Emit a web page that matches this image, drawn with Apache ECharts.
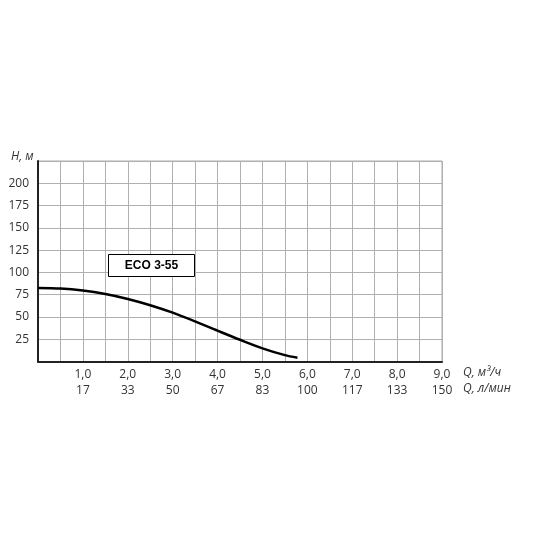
<!DOCTYPE html>
<html>
<head>
<meta charset="utf-8">
<style>
  html, body { margin: 0; padding: 0; background: #fff; }
  #chart { width: 550px; height: 550px; }
</style>
<script src="https://cdn.jsdelivr.net/npm/echarts@6/dist/echarts.min.js"></script>
</head>
<body>
<div id="chart"></div>
<script>
  // flow, m3/h  and  head, m
  var flowM3h = [0, 0.5, 1.0, 1.5, 2.0, 2.5, 3.0, 3.5, 4.0, 4.5, 5.0, 5.5, 5.78];
  var headM   = [82.6, 81.9, 79.6, 75.7, 70.2, 63.2, 54.8, 45.0, 34.6, 24.4, 14.8, 7.2, 4.3];

  // bottom tick rows
  var tickM3h = [1, 2, 3, 4, 5, 6, 7, 8, 9];
  var tickLmin = [17, 33, 50, 67, 83, 100, 117, 133, 150];

  var modelName = 'ECO 3-55';
  var font = '"Open Sans", sans-serif';

  var curve = flowM3h.map(function (q, i) { return [q, headM[i]]; });

  var chart = echarts.init(document.getElementById('chart'));

  chart.setOption({
    animation: false,
    grid: {
      left: 38,
      right: 108,
      top: 161,
      bottom: 188.5,
      show: true,
      borderColor: '#aaa',
      borderWidth: 1
    },
    xAxis: {
      type: 'value',
      min: 0,
      max: 9,
      interval: 0.5,
      axisLine: { show: true, onZero: false, lineStyle: { color: '#222', width: 2 } },
      axisTick: { show: false },
      splitLine: { show: true, lineStyle: { color: '#b0b0b0', width: 1 } },
      axisLabel: {
        margin: 5,
        fontFamily: font,
        fontSize: 12,
        color: '#333',
        lineHeight: 16,
        formatter: function (v) {
          var idx = tickM3h.indexOf(v);
          if (idx < 0) return '';
          return v.toFixed(1).replace('.', ',') + '\n' + tickLmin[idx];
        }
      }
    },
    yAxis: {
      type: 'value',
      min: 0,
      max: 225,
      interval: 25,
      axisLine: { show: true, lineStyle: { color: '#222', width: 2 } },
      axisTick: { show: false },
      splitLine: { show: true, lineStyle: { color: '#b0b0b0', width: 1 } },
      axisLabel: {
        margin: 9,
        fontFamily: font,
        fontSize: 12,
        color: '#333',
        padding: [0, 0, 4, 0],
        formatter: function (v) {
          return (v === 0 || v === 225) ? '' : String(v);
        }
      }
    },
    series: [{
      type: 'line',
      data: curve,
      smooth: 0.3,
      showSymbol: false,
      lineStyle: { color: '#000', width: 2.5 }
    }],
    graphic: [
      {
        type: 'text',
        x: 11,
        y: 157,
        style: { text: 'H, м', font: 'italic 12px ' + font, fill: '#333', verticalAlign: 'middle' }
      },
      {
        type: 'text',
        x: 463,
        y: 373,
        style: { text: 'Q, м³/ч', font: 'italic 12px ' + font, fill: '#333', verticalAlign: 'middle' }
      },
      {
        type: 'text',
        x: 463,
        y: 389,
        style: { text: 'Q, л/мин', font: 'italic 12px ' + font, fill: '#333', verticalAlign: 'middle' }
      },
      {
        type: 'rect',
        shape: { x: 108.5, y: 254.5, width: 86, height: 22 },
        style: { fill: '#fff', stroke: '#000', lineWidth: 1 },
        z: 10
      },
      {
        type: 'text',
        x: 151.5,
        y: 265.5,
        style: {
          text: modelName,
          font: 'bold 12px "Liberation Sans", Arial, sans-serif',
          fill: '#000',
          align: 'center',
          verticalAlign: 'middle'
        },
        z: 11
      }
    ]
  });
</script>
</body>
</html>
